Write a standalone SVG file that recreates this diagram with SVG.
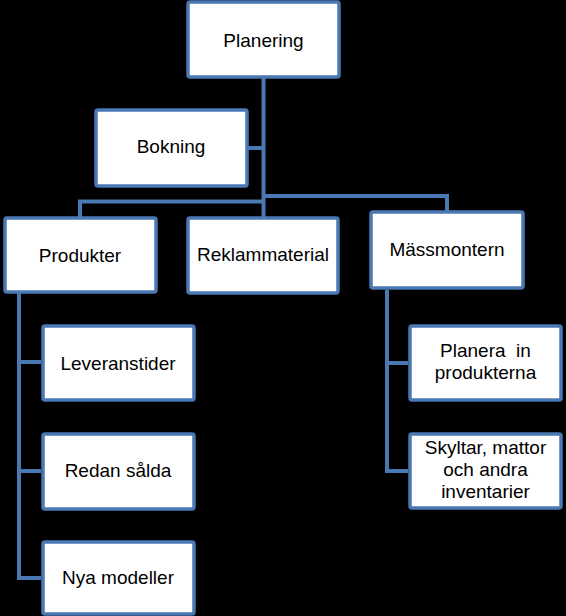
<svg xmlns="http://www.w3.org/2000/svg" width="566" height="616" viewBox="0 0 566 616">
<style>
.box{fill:#ffffff;stroke:#4a78b2;stroke-width:3.5}
.lbl{font-family:"Liberation Sans",Arial,sans-serif;font-size:19px;fill:#000000;text-anchor:middle;white-space:pre}
.con{fill:none;stroke:#4a78b2;stroke-width:4}
</style>
<rect x="0" y="0" width="566" height="616" fill="#000000"/>
<g id="connectors" class="con">
<path d="M263.5 78V217"/>
<path d="M248 148H263.5"/>
<path d="M80 217V201.5H263.5"/>
<path d="M263.5 196H447V211"/>
<path d="M19 293V578H41"/>
<path d="M19 362H41"/>
<path d="M19 471H41"/>
<path d="M387 290V471H408"/>
<path d="M387 363H408"/>
</g>
<g id="planering"><rect class="box" x="188" y="2" width="151" height="75" rx="2"/><text class="lbl" x="263.5" y="47">Planering</text></g>
<g id="bokning"><rect class="box" x="96" y="110" width="151" height="76" rx="2"/><text class="lbl" x="171" y="153">Bokning</text></g>
<g id="produkter"><rect class="box" x="5" y="218" width="151" height="74" rx="2"/><text class="lbl" x="80" y="261.5">Produkter</text></g>
<g id="reklammaterial"><rect class="box" x="188" y="218" width="150" height="75" rx="2"/><text class="lbl" x="263" y="261">Reklammaterial</text></g>
<g id="massmontern"><rect class="box" x="371" y="212" width="152" height="76" rx="2"/><text class="lbl" x="447" y="256">Mässmontern</text></g>
<g id="leveranstider"><rect class="box" x="43" y="326" width="151" height="74" rx="2"/><text class="lbl" x="118" y="369.5">Leveranstider</text></g>
<g id="redan-salda"><rect class="box" x="43" y="434" width="151" height="75" rx="2"/><text class="lbl" x="118" y="477">Redan sålda</text></g>
<g id="nya-modeller"><rect class="box" x="43" y="542" width="151" height="72" rx="2"/><text class="lbl" x="118" y="584">Nya modeller</text></g>
<g id="planera-in"><rect class="box" x="410" y="326" width="151" height="74" rx="2"/><text class="lbl" x="485.5" y="357" xml:space="preserve">Planera  in</text><text class="lbl" x="485.5" y="379">produkterna</text></g>
<g id="skyltar"><rect class="box" x="410" y="434" width="151" height="74" rx="2"/><text class="lbl" x="485.5" y="454">Skyltar, mattor</text><text class="lbl" x="485.5" y="476">och andra</text><text class="lbl" x="485.5" y="498">inventarier</text></g>
</svg>
